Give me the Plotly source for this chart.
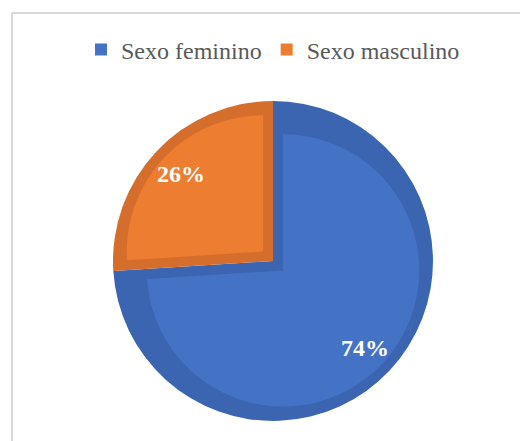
import math
import plotly.graph_objects as go

# ---- data ----
categories = ["Sexo feminino", "Sexo masculino"]
values = [74, 26]

# ---- styles ----
fill_colors = ["#4472C4", "#ED7D31"]
border_colors = ["#3B64B1", "#D56E2C"]
SERIF = "Times New Roman, Liberation Serif, serif"
W, H = 520, 441
cx, cy = 273, 261          # pie centre in px (from top)
R = 160                    # outer radius px
band = 10                  # inner border thickness px
label_r = 0.79             # label radius as fraction of R

total = sum(values)
half = math.pi * values[1] / total      # half-angle of the smaller slice
shift = band / math.sin(half)           # apex shift that insets both slices by `band`
inner_half = R - band
r_inner = inner_half - shift
pull = shift / r_inner


def dom(half_size):
    return dict(
        x=[(cx - half_size) / W, (cx + half_size) / W],
        y=[(H - cy - half_size) / H, (H - cy + half_size) / H],
    )


fig = go.Figure()
fig.add_trace(go.Pie(
    labels=categories, values=values, sort=False, direction="clockwise", rotation=0,
    marker=dict(colors=border_colors, line=dict(width=0)),
    textinfo="none", hoverinfo="skip", showlegend=False, domain=dom(R),
))
fig.add_trace(go.Pie(
    labels=categories, values=values, sort=False, direction="clockwise", rotation=0,
    marker=dict(colors=fill_colors, line=dict(width=0)),
    pull=[pull, pull],
    textinfo="none",
    hoverinfo="label+percent", showlegend=True, domain=dom(inner_half),
))

# percentage labels placed along each slice's bisector
annotations = []
cum = 0
for v in values:
    mid = (cum + v / 2) / total
    ang = 2 * math.pi * mid
    px = cx + label_r * R * math.sin(ang)
    py = cy - label_r * R * math.cos(ang)
    annotations.append(dict(
        x=px / W, y=1 - py / H, xref="paper", yref="paper",
        text=f"{round(100 * v / total)}%", showarrow=False,
        xanchor="center", yanchor="middle",
        font=dict(family=SERIF, size=24, color="white", weight="bold"),
    ))
    cum += v

fig.update_layout(
    width=W, height=H,
    margin=dict(l=0, r=0, t=0, b=0),
    paper_bgcolor="white", plot_bgcolor="white",
    legend=dict(
        orientation="h", x=273 / W, xanchor="center", y=1 - 50 / H, yanchor="middle",
        font=dict(family=SERIF, size=24, color="#595959"),
        bgcolor="rgba(0,0,0,0)",
    ),
    annotations=annotations,
    shapes=[dict(
        type="rect", xref="paper", yref="paper",
        x0=12 / W, x1=1.2, y0=-0.2, y1=1 - 13 / H,
        line=dict(color="#D9D9D9", width=2), fillcolor="rgba(0,0,0,0)", layer="below",
    )],
)

fig.write_html(
    "out.html",
    config={"displayModeBar": False},
    post_script="document.body.style.margin='0';document.body.style.overflow='hidden';",
)
